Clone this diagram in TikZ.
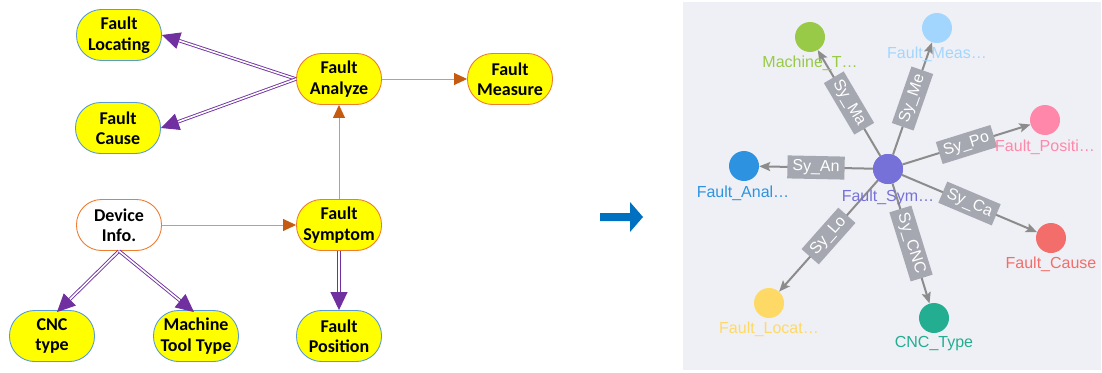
\documentclass[tikz,border=0pt]{standalone}
\usepackage{fontspec}
\setmainfont{Carlito}
\newfontfamily\arialf{Liberation Sans}
\usetikzlibrary{arrows.meta}

\definecolor{nodeyellow}{HTML}{FFFF00}
\definecolor{bblue}{HTML}{5B9BD5}
\definecolor{borange}{HTML}{ED7D31}
\definecolor{aorange}{HTML}{C55A11}
\definecolor{lorange}{HTML}{E59066}
\definecolor{apurple}{HTML}{7030A0}
\definecolor{panelbg}{HTML}{EFF0F5}
\definecolor{egray}{HTML}{8C8C8C}
\definecolor{lgray}{HTML}{A5A7B1}
\definecolor{arrblue}{HTML}{0070C0}
\definecolor{cgreen}{HTML}{98CA47}
\definecolor{clblue}{HTML}{A3D6FF}
\definecolor{cpink}{HTML}{FF88AA}
\definecolor{cblue}{HTML}{2D93E0}
\definecolor{cpurple}{HTML}{7670D9}
\definecolor{cred}{HTML}{F36D6A}
\definecolor{cteal}{HTML}{23AE92}
\definecolor{cyellow}{HTML}{FFD966}

\tikzset{
  box/.style={draw, line width=0.9pt, rounded corners=25pt, minimum width=85pt,
    minimum height=51pt, inner sep=0pt, align=center,
    font=\fontsize{18}{20.5}\selectfont\bfseries, text=black},
  ybox/.style={box, fill=nodeyellow, draw=bblue},
  obox/.style={box, fill=nodeyellow, draw=borange},
  wbox/.style={box, fill=white, draw=borange},
  dbl/.style={draw=apurple, double=white, double distance=1.6pt, line width=0.9pt,
    -{Triangle[length=18pt,width=17pt]}},
  orng/.style={draw=lorange, line width=0.9pt,
    -{Triangle[length=13pt,width=12pt,color=aorange]}},
  gnode/.style={circle, minimum size=30pt, inner sep=0pt},
  glbl/.style={font=\arialf\fontsize{16}{18}\selectfont},
  gedge/.style={draw=egray, line width=2pt, -{Stealth[length=11pt,width=9pt,inset=2pt]}},
  elbl/.style={fill=lgray, text=white, font=\arialf\fontsize{16}{16}\selectfont,
    inner xsep=5pt, inner ysep=0pt, minimum height=23pt, sloped, midway, anchor=center}
}

\begin{document}
\begin{tikzpicture}[x=1pt, y=-1pt]
\useasboundingbox (0,0) rectangle (1102,372);

% ---------- left diagram ----------
\node[ybox] (loc) at (119,35) {Fault\\Locating};
\node[ybox] (cause) at (118,128) {Fault\\Cause};
\node[obox] (anal) at (339,79) {Fault\\Analyze};
\node[obox] (meas) at (510,79) {Fault\\Measure};
\node[wbox] (dev) at (119,225) {Device\\Info.};
\node[obox] (sym) at (339,225) {Fault\\Symptom};
\node[ybox] (cnc) at (52,336) {CNC\\type};
\node[ybox] (mtt) at (196,336) {Machine\\Tool Type};
\node[ybox] (pos) at (339,336) {Fault\\Position};

\draw[dbl] (anal.west) -- (loc.east);
\draw[dbl] (anal.west) -- (cause.east);
\draw[dbl] (dev.south) -- ([xshift=5pt,yshift=-2pt]cnc.north);
\draw[dbl] (dev.south) -- ([xshift=-2pt,yshift=-2pt]mtt.north);
\draw[dbl] (sym.south) -- (pos.north);
\draw[orng] (dev.east) -- (sym.west);
\draw[orng] (sym.north) -- (anal.south);
\draw[orng] (anal.east) -- (meas.west);

% ---------- middle arrow ----------
\fill[arrblue] (600,213) -- (630,213) -- (630,202) -- (643,217) -- (630,232)
  -- (630,221) -- (600,221) -- cycle;

% ---------- right panel ----------
\fill[panelbg] (683,2) rectangle (1101,370);

\node[gnode, fill=cpurple] (gsym) at (888,169) {};
\node[gnode, fill=cgreen] (gmach) at (810,37) {};
\node[gnode, fill=clblue] (gmeas) at (937,28) {};
\node[gnode, fill=cpink] (gpos) at (1045,120) {};
\node[gnode, fill=cblue] (ganal) at (744,166) {};
\node[gnode, fill=cred] (gcause) at (1051,238) {};
\node[gnode, fill=cteal] (gcnc) at (934,318) {};
\node[gnode, fill=cyellow] (gloc) at (769,303) {};

\draw[gedge] (gsym) -- node[elbl] {Sy\_Ma} (gmach);
\draw[gedge] (gsym) -- node[elbl] {Sy\_Me} (gmeas);
\draw[gedge] (gsym) -- node[elbl] {Sy\_Po} (gpos);
\draw[gedge] (gsym) -- node[elbl] {Sy\_An} (ganal);
\draw[gedge] (gsym) -- node[elbl] {Sy\_Ca} (gcause);
\draw[gedge] (gsym) -- node[elbl] {Sy\_CNC} (gcnc);
\draw[gedge] (gsym) -- node[elbl] {Sy\_Lo} (gloc);

\node[gnode, fill=cpurple] (gsymtop) at (888,169) {};

\node[glbl, text=cgreen] (lmach) at (810,63) {Machine\_T…};
\node[glbl, text=clblue] (lmeas) at (937,54) {Fault\_Meas…};
\node[glbl, text=cpink] (lpos) at (1045,147) {Fault\_Positi…};
\node[glbl, text=cblue] (lanal) at (743,193) {Fault\_Anal…};
\node[glbl, text=cpurple] (lsym) at (888,197) {Fault\_Sym…};
\node[glbl, text=cred] (lcause) at (1051,264) {Fault\_Cause};
\node[glbl, text=cteal] (lcnc) at (934,344) {CNC\_Type};
\node[glbl, text=cyellow] (lloc) at (769,329) {Fault\_Locat…};
\end{tikzpicture}
\end{document}
